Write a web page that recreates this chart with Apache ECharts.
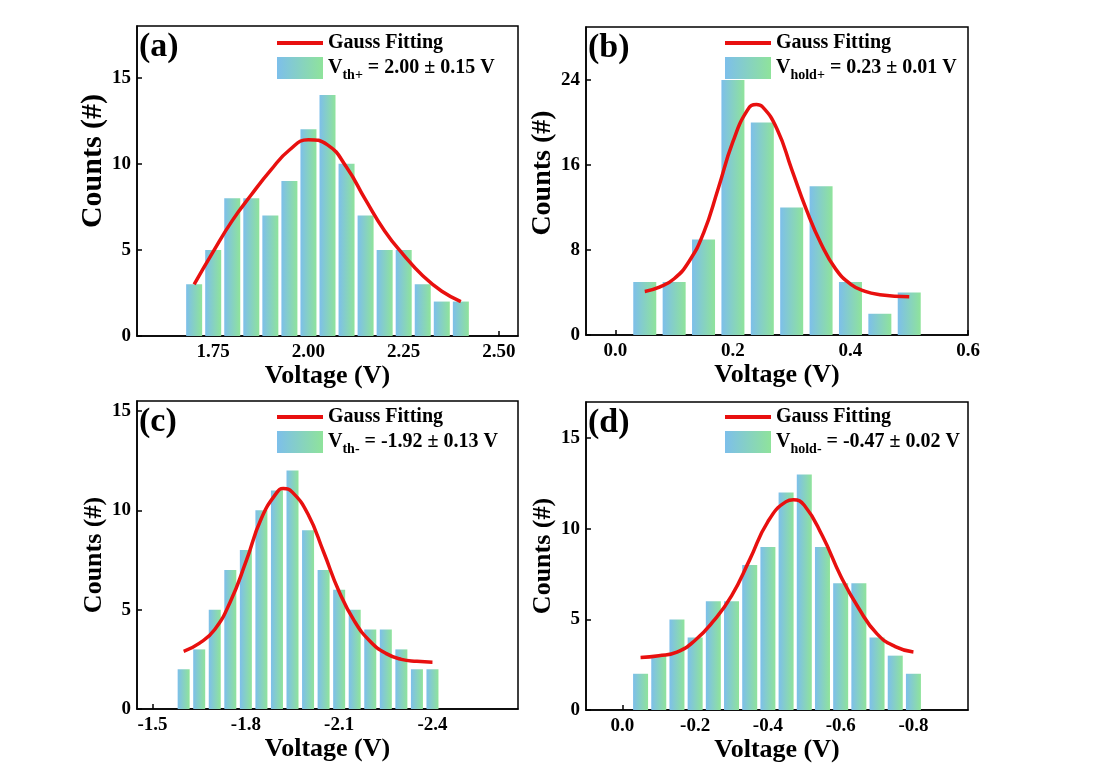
<!DOCTYPE html>
<html>
<head>
<meta charset="utf-8">
<title>Gauss fitting histograms</title>
<script src="https://cdn.jsdelivr.net/npm/echarts@6/dist/echarts.min.js"></script>
<style>
  html, body { margin: 0; padding: 0; background: #fff; }
  #chart { width: 1103px; height: 771px; }
</style>
</head>
<body>
<div id="chart"></div>
<script>
// ---------- data ----------
// (a) V_th+
const voltA = [1.70, 1.75, 1.80, 1.85, 1.90, 1.95, 2.00, 2.05, 2.10, 2.15, 2.20, 2.25, 2.30, 2.35, 2.40];
const countA = [3, 5, 8, 8, 7, 9, 12, 14, 10, 7, 5, 5, 3, 2, 2];
const fitXA = [1.70, 1.75, 1.80, 1.85, 1.90, 1.95, 2.00, 2.05, 2.10, 2.15, 2.20, 2.25, 2.30, 2.35, 2.40];
const fitYA = [3.0, 4.9, 6.7, 8.2, 9.6, 10.8, 11.4, 11.1, 9.8, 7.9, 6.1, 4.7, 3.5, 2.6, 2.0];
const xTicksA = [1.75, 2.00, 2.25, 2.50];
const yTicksA = [0, 5, 10, 15];

// (b) V_hold+
const voltB = [0.05, 0.10, 0.15, 0.20, 0.25, 0.30, 0.35, 0.40, 0.45, 0.50];
const countB = [5, 5, 9, 24, 20, 12, 14, 5, 2, 4];
const fitXB = [0.05, 0.075, 0.10, 0.125, 0.15, 0.175, 0.20, 0.225, 0.24, 0.25, 0.275, 0.30, 0.325, 0.35, 0.375, 0.40, 0.425, 0.45, 0.50];
const fitYB = [4.1, 4.5, 5.3, 6.9, 9.6, 13.8, 18.2, 21.2, 21.7, 21.5, 19.4, 15.6, 11.8, 8.6, 6.2, 4.8, 4.1, 3.8, 3.6];
const xTicksB = [0.0, 0.2, 0.4, 0.6];
const yTicksB = [0, 8, 16, 24];

// (c) V_th-
const voltC = [-1.60, -1.65, -1.70, -1.75, -1.80, -1.85, -1.90, -1.95, -2.00, -2.05, -2.10, -2.15, -2.20, -2.25, -2.30, -2.35, -2.40];
const countC = [2, 3, 5, 7, 8, 10, 11, 12, 9, 7, 6, 5, 4, 4, 3, 2, 2];
const fitXC = [-1.60, -1.65, -1.70, -1.75, -1.80, -1.85, -1.90, -1.92, -1.95, -2.00, -2.05, -2.10, -2.15, -2.20, -2.25, -2.30, -2.35, -2.40];
const fitYC = [2.9, 3.3, 4.0, 5.4, 7.4, 9.6, 10.9, 11.1, 10.9, 9.8, 7.9, 5.9, 4.4, 3.4, 2.8, 2.5, 2.4, 2.35];
const xTicksC = [-1.5, -1.8, -2.1, -2.4];
const yTicksC = [0, 5, 10, 15];

// (d) V_hold-
const voltD = [-0.05, -0.10, -0.15, -0.20, -0.25, -0.30, -0.35, -0.40, -0.45, -0.50, -0.55, -0.60, -0.65, -0.70, -0.75, -0.80];
const countD = [2, 3, 5, 4, 6, 6, 8, 9, 12, 13, 9, 7, 7, 4, 3, 2];
const fitXD = [-0.05, -0.10, -0.15, -0.20, -0.25, -0.30, -0.35, -0.40, -0.45, -0.47, -0.50, -0.55, -0.60, -0.65, -0.70, -0.75, -0.80];
const fitYD = [2.9, 3.0, 3.2, 3.85, 4.9, 6.3, 8.3, 10.4, 11.5, 11.6, 11.3, 9.6, 7.4, 5.6, 4.2, 3.5, 3.2];
const xTicksD = [0.0, -0.2, -0.4, -0.6, -0.8];
const yTicksD = [0, 5, 10, 15];

// legend texts: V_sub = value
const legendSub = ['th+', 'hold+', 'th-', 'hold-'];
const legendVal = ['= 2.00 ± 0.15 V', '= 0.23 ± 0.01 V', '= -1.92 ± 0.13 V', '= -0.47 ± 0.02 V'];
const panelTags = ['(a)', '(b)', '(c)', '(d)'];

// ---------- layout ----------
const FONT = '"Times New Roman", "Liberation Serif", serif';
const panels = [
  { grid: { left: 137, top: 26, width: 381, height: 310 }, x: [1.55, 2.55], inv: false, yMax: 18, xt: xTicksA, yt: yTicksA, dec: 2, bw: 16, v: voltA, c: countA, fx: fitXA, fy: fitYA, lg: [277, 33], yName: [30, 40, 28] },
  { grid: { left: 586, top: 27, width: 382, height: 308 }, x: [-0.05, 0.6], inv: false, yMax: 29, xt: xTicksB, yt: yTicksB, dec: 1, bw: 23, v: voltB, c: countB, fx: fitXB, fy: fitYB, lg: [725, 33], yName: [28, 16, 29] },
  { grid: { left: 137, top: 401, width: 381, height: 308 }, x: [-2.675, -1.45], inv: true, yMax: 15.5, xt: xTicksC, yt: yTicksC, dec: 1, bw: 12, v: voltC, c: countC, fx: fitXC, fy: fitYC, lg: [277, 407], yName: [26, 0, 30] },
  { grid: { left: 586, top: 402, width: 382, height: 308 }, x: [-0.95, 0.1], inv: true, yMax: 17, xt: xTicksD, yt: yTicksD, dec: 1, bw: 15, v: voltD, c: countD, fx: fitXD, fy: fitYD, lg: [725, 407], yName: [26, 0, 30] }
];

const barFill = new echarts.graphic.LinearGradient(0, 0, 1, 0, [
  { offset: 0, color: '#7dbfea' },
  { offset: 1, color: '#8fe39b' }
]);
const lineIcon = 'path://M0,0 L46,0 L46,4 L0,4 Z';

const grids = [], xAxes = [], yAxes = [], series = [], legends = [], graphics = [];

panels.forEach((p, i) => {
  grids.push(Object.assign({ show: true, borderColor: '#000', borderWidth: 1.5, backgroundColor: 'transparent' }, p.grid));

  xAxes.push({
    gridIndex: i, type: 'value', min: p.x[0], max: p.x[1], inverse: p.inv,
    name: 'Voltage (V)', nameLocation: 'middle', nameGap: 26,
    nameTextStyle: { fontFamily: FONT, fontWeight: 'bold', fontSize: 26, color: '#000' },
    axisLine: { show: true, onZero: false, lineStyle: { color: '#000', width: 1.5 } },
    axisTick: { show: true, inside: true, length: 5, customValues: p.xt, lineStyle: { color: '#000', width: 1.5 } },
    axisLabel: {
      customValues: p.xt, margin: 7, color: '#000', fontFamily: FONT, fontWeight: 'bold', fontSize: 19,
      formatter: v => Math.abs(v) < 1e-9 ? (0).toFixed(p.dec) : v.toFixed(p.dec)
    },
    splitLine: { show: false }
  });

  yAxes.push({
    gridIndex: i, type: 'value', min: 0, max: p.yMax,
    name: 'Counts (#)', nameLocation: 'middle', nameGap: p.yName[2],
    // left padding moves the rotated title upwards by half its value
    nameTextStyle: { fontFamily: FONT, fontWeight: 'bold', fontSize: p.yName[0], color: '#000', padding: [0, 0, 0, p.yName[1]] },
    axisLine: { show: true, onZero: false, lineStyle: { color: '#000', width: 1.5 } },
    axisTick: { show: true, inside: true, length: 5, customValues: p.yt, lineStyle: { color: '#000', width: 1.5 } },
    axisLabel: { customValues: p.yt, margin: 6, color: '#000', fontFamily: FONT, fontWeight: 'bold', fontSize: 19 },
    splitLine: { show: false }
  });

  const barName = 'V' + legendSub[i] + ' ' + legendVal[i];
  series.push({
    name: barName, type: 'bar', xAxisIndex: i, yAxisIndex: i,
    barWidth: p.bw, itemStyle: { color: barFill },
    data: p.v.map((x, k) => [x, p.c[k]])
  });
  series.push({
    name: 'Gauss Fitting', type: 'line', xAxisIndex: i, yAxisIndex: i,
    smooth: true, symbol: 'none', z: 5,
    lineStyle: { color: '#e8100f', width: 3.5 },
    itemStyle: { color: '#e8100f' },
    data: p.fx.map((x, k) => [x, p.fy[k]])
  });

  legends.push({
    orient: 'vertical', left: p.lg[0], top: p.lg[1], padding: 0,
    itemWidth: 46, itemHeight: 22, itemGap: 4,
    data: [
      { name: 'Gauss Fitting', icon: lineIcon },
      { name: barName, icon: 'rect' }
    ],
    selectedMode: false,
    textStyle: {
      color: '#000', fontFamily: FONT, fontWeight: 'bold', fontSize: 20,
      rich: {
        m: { fontFamily: FONT, fontWeight: 'bold', fontSize: 20, color: '#000', lineHeight: 28 },
        s: { fontFamily: FONT, fontWeight: 'bold', fontSize: 14, color: '#000', lineHeight: 14, verticalAlign: 'bottom' }
      }
    },
    formatter: name => {
      const m = /^V(\S+) (.*)$/.exec(name);
      if (!m) return '{m|' + name + '}';
      return '{m|V}{s|' + m[1] + '}{m| ' + m[2] + '}';
    }
  });

  graphics.push({
    type: 'text', left: p.grid.left + 2, top: p.grid.top + 4,
    style: { text: panelTags[i], fill: '#000', font: 'bold 34px ' + FONT }
  });
});

const chart = echarts.init(document.getElementById('chart'));
chart.setOption({
  backgroundColor: '#fff',
  animation: false,
  grid: grids,
  xAxis: xAxes,
  yAxis: yAxes,
  legend: legends,
  series: series,
  graphic: graphics
});
</script>
</body>
</html>
